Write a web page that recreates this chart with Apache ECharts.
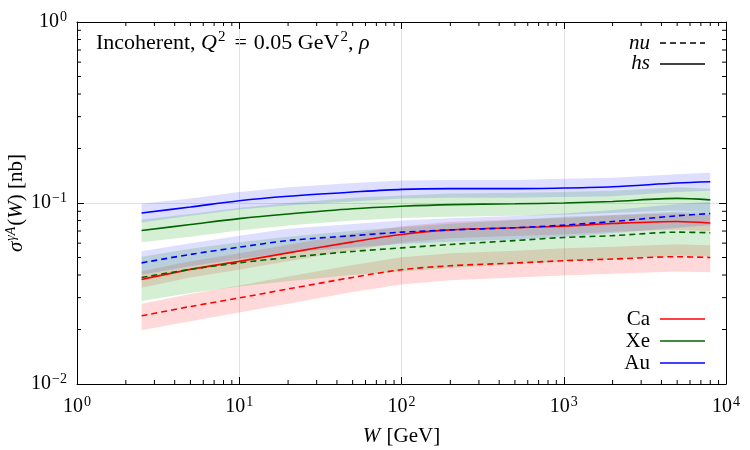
<!DOCTYPE html>
<html>
<head>
<meta charset="utf-8">
<script src="https://cdn.jsdelivr.net/npm/echarts@6/dist/echarts.min.js"></script>
<style>
  html, body { margin: 0; padding: 0; background: #fff; }
  #chart { width: 750px; height: 450px; }
</style>
</head>
<body>
<div id="chart"></div>
<script>
// W values (GeV)
const W = [2.5, 5, 10, 20, 50, 100, 200, 500, 1000, 2000, 5000, 8000]

// Ca
const caNu   = [0.0238, 0.0268, 0.0299, 0.0335, 0.0388, 0.0428, 0.0450, 0.0466, 0.048, 0.049, 0.0505, 0.050]
const caNuHi = [0.0278, 0.0314, 0.035, 0.0392, 0.0454, 0.0501, 0.0527, 0.0545, 0.0562, 0.0573, 0.0591, 0.0585]
const caNuLo = [0.0198, 0.0222, 0.0248, 0.0278, 0.0322, 0.0355, 0.0374, 0.0387, 0.0398, 0.0407, 0.0419, 0.0415]
const caHs   = [0.0378, 0.043, 0.0476, 0.053, 0.061, 0.067, 0.071, 0.073, 0.0745, 0.077, 0.079, 0.0775]
const caHsHi = [0.042, 0.0477, 0.0528, 0.0588, 0.0677, 0.0744, 0.0788, 0.081, 0.0827, 0.0855, 0.0877, 0.086]
const caHsLo = [0.034, 0.0387, 0.0428, 0.0477, 0.0549, 0.0603, 0.0639, 0.0657, 0.067, 0.0693, 0.0711, 0.0698]

// Xe
const xeNu   = [0.0388, 0.043, 0.0467, 0.050, 0.054, 0.0565, 0.059, 0.062, 0.0645, 0.066, 0.069, 0.0685]
const xeNuHi = [0.0504, 0.0559, 0.0607, 0.065, 0.0702, 0.0735, 0.0767, 0.0806, 0.0839, 0.0858, 0.0897, 0.089]
const xeNuLo = [0.0287, 0.0318, 0.0346, 0.037, 0.040, 0.0418, 0.0437, 0.0459, 0.0477, 0.0488, 0.0511, 0.0507]
const xeHs   = [0.0705, 0.076, 0.082, 0.087, 0.093, 0.096, 0.098, 0.099, 0.100, 0.102, 0.106, 0.104]
const xeHsHi = [0.081, 0.087, 0.094, 0.100, 0.107, 0.110, 0.113, 0.114, 0.115, 0.117, 0.122, 0.120]
const xeHsLo = [0.0606, 0.065, 0.0705, 0.075, 0.080, 0.0826, 0.084, 0.085, 0.086, 0.088, 0.091, 0.089]

// Au
const auNu   = [0.0467, 0.052, 0.057, 0.062, 0.066, 0.069, 0.071, 0.073, 0.0755, 0.079, 0.085, 0.0875]
const auNuHi = [0.0542, 0.060, 0.066, 0.072, 0.0766, 0.080, 0.0824, 0.0847, 0.0876, 0.0916, 0.0986, 0.1015]
const auNuLo = [0.0402, 0.0447, 0.049, 0.0533, 0.0568, 0.0593, 0.061, 0.0628, 0.065, 0.068, 0.073, 0.0753]
const auHs   = [0.088, 0.095, 0.103, 0.109, 0.115, 0.119, 0.120, 0.120, 0.121, 0.123, 0.129, 0.131]
const auHsHi = [0.099, 0.106, 0.115, 0.122, 0.129, 0.133, 0.134, 0.134, 0.136, 0.138, 0.144, 0.147]
const auHsLo = [0.078, 0.085, 0.092, 0.097, 0.102, 0.106, 0.107, 0.107, 0.108, 0.109, 0.115, 0.117]

// minor tick positions on the log axes
const xMinor = [2, 3, 4, 5, 6, 7, 8, 9, 20, 30, 40, 50, 60, 70, 80, 90, 200, 300, 400, 500, 600, 700, 800, 900, 2000, 3000, 4000, 5000, 6000, 7000, 8000, 9000]
const yMinor = [0.02, 0.03, 0.04, 0.05, 0.06, 0.07, 0.08, 0.09, 0.2, 0.3, 0.4, 0.5, 0.6, 0.7, 0.8, 0.9]

const RED = '#ff0000'
const GREEN = '#006400'
const BLUE = '#0000ff'
const FONT = 'Liberation Serif'

const chart = echarts.init(document.getElementById('chart'))

function line(data, color, dashed) {
  return {
    type: 'line',
    data: W.map((w, i) => [w, data[i]]),
    smooth: 0.3,
    symbol: 'none',
    lineStyle: { color: color, width: 1.6, type: dashed ? [6, 4] : 'solid' },
    z: 3
  }
}

function band(lo, hi, fill) {
  return {
    type: 'custom',
    data: [[W[0], lo[0]]],
    silent: true,
    z: 1,
    renderItem(params, api) {
      const pts = []
      for (let i = 0; i < W.length; i++) pts.push(api.coord([W[i], hi[i]]))
      for (let i = W.length - 1; i >= 0; i--) pts.push(api.coord([W[i], lo[i]]))
      return { type: 'polygon', shape: { points: pts }, style: { fill: fill } }
    }
  }
}

const minorX = {
  type: 'custom',
  data: xMinor.map(v => [v, 0.1]),
  silent: true,
  z: 4,
  renderItem(params, api) {
    const x = api.coord([api.value(0), 0.1])[0]
    const cs = params.coordSys
    const st = { stroke: '#000', lineWidth: 1 }
    return {
      type: 'group',
      children: [
        { type: 'line', shape: { x1: x, y1: cs.y + cs.height, x2: x, y2: cs.y + cs.height - 4 }, style: st },
        { type: 'line', shape: { x1: x, y1: cs.y, x2: x, y2: cs.y + 4 }, style: st }
      ]
    }
  }
}

const minorY = {
  type: 'custom',
  data: yMinor.map(v => [10, v]),
  silent: true,
  z: 4,
  renderItem(params, api) {
    const y = api.coord([10, api.value(1)])[1]
    const cs = params.coordSys
    const st = { stroke: '#000', lineWidth: 1 }
    return {
      type: 'group',
      children: [
        { type: 'line', shape: { x1: cs.x, y1: y, x2: cs.x + 4, y2: y }, style: st },
        { type: 'line', shape: { x1: cs.x + cs.width, y1: y, x2: cs.x + cs.width - 4, y2: y }, style: st }
      ]
    }
  }
}

const supRich = {
  b: { fontFamily: FONT, fontSize: 20, color: '#000', lineHeight: 24 },
  s: { fontFamily: FONT, fontSize: 14, color: '#000', lineHeight: 24, verticalAlign: 'top', padding: [0, 0, 10, 1] }
}

function powLabel(v) {
  const e = Math.round(Math.log10(v))
  return '{b|10}{s|' + String(e).replace('-', '\u2212') + '}'
}

const axisCommon = {
  type: 'log',
  logBase: 10,
  axisLine: { lineStyle: { color: '#000', width: 1 } },
  axisTick: { inside: true, length: 7, lineStyle: { color: '#000' } },
  minorTick: { show: false }
}

const option = {
  animation: false,
  grid: { left: 77, right: 24, top: 22, bottom: 66, outerBoundsMode: 'none' },
  xAxis: [
    Object.assign({}, axisCommon, {
      min: 1, max: 10000, position: 'bottom',
      axisLabel: { formatter: powLabel, rich: supRich, margin: 11, color: '#000' },
      splitLine: { show: true, lineStyle: { color: '#e2e2e2', width: 1 } },
      name: '{i|W} {n|[GeV]}',
      nameLocation: 'middle',
      nameGap: 42,
      nameMoveOverlap: false,
      nameTextStyle: {
        rich: {
          i: { fontFamily: FONT, fontSize: 21, fontStyle: 'italic', color: '#000', padding: [0, 3, 0, 0] },
          n: { fontFamily: FONT, fontSize: 21, color: '#000' }
        }
      }
    }),
    Object.assign({}, axisCommon, {
      min: 1, max: 10000, position: 'top',
      axisLabel: { show: false },
      splitLine: { show: false }
    })
  ],
  yAxis: [
    Object.assign({}, axisCommon, {
      min: 0.01, max: 1, position: 'left',
      axisLabel: { formatter: powLabel, rich: supRich, margin: 10, color: '#000' },
      splitLine: { show: true, lineStyle: { color: '#e2e2e2', width: 1 } },
      name: '{i|σ}{s|γA}{n|(}{i|W}{n|) [nb]}',
      nameLocation: 'middle',
      nameGap: 49,
      nameRotate: 90,
      nameMoveOverlap: false,
      nameTextStyle: {
        rich: {
          i: { fontFamily: FONT, fontSize: 21, fontStyle: 'italic', color: '#000', lineHeight: 24 },
          n: { fontFamily: FONT, fontSize: 21, color: '#000', lineHeight: 24 },
          s: { fontFamily: FONT, fontSize: 14, fontStyle: 'italic', color: '#000', lineHeight: 24, verticalAlign: 'top', padding: [0, 1, 10, 1] }
        }
      }
    }),
    Object.assign({}, axisCommon, {
      min: 0.01, max: 1, position: 'right',
      axisLabel: { show: false },
      splitLine: { show: false }
    })
  ],
  series: [
    band(caNuLo, caNuHi, 'rgba(255,0,0,0.15)'),
    band(caHsLo, caHsHi, 'rgba(255,0,0,0.15)'),
    band(xeNuLo, xeNuHi, 'rgba(0,160,0,0.17)'),
    band(xeHsLo, xeHsHi, 'rgba(0,160,0,0.17)'),
    band(auNuLo, auNuHi, 'rgba(0,0,255,0.13)'),
    band(auHsLo, auHsHi, 'rgba(0,0,255,0.13)'),
    line(caNu, RED, true),
    line(caHs, RED, false),
    line(xeNu, GREEN, true),
    line(xeHs, GREEN, false),
    line(auNu, BLUE, true),
    line(auHs, BLUE, false),
    minorX,
    minorY
  ],
  graphic: [
    {
      type: 'text', left: 96, top: 30,
      style: {
        text: '{n|Incoherent, }{i|Q}{s|2}{e|=}{n|0.05 GeV}{s|2}{n|, }{i|ρ}',
        rich: {
          n: { fontFamily: FONT, fontSize: 22, fill: '#000', lineHeight: 27 },
          e: { fontFamily: FONT, fontSize: 22, fill: '#000', lineHeight: 27, padding: [0, 7, 0, 9] },
          i: { fontFamily: FONT, fontSize: 22, fontStyle: 'italic', fill: '#000', lineHeight: 27 },
          s: { fontFamily: FONT, fontSize: 15, fill: '#000', lineHeight: 27, verticalAlign: 'top', padding: [0, 0, 10, 1] }
        }
      }
    },
    { type: 'text', x: 650, y: 43, style: { text: 'nu', fontFamily: FONT, fontSize: 21, fontStyle: 'italic', fill: '#000', align: 'right', verticalAlign: 'middle' } },
    { type: 'line', shape: { x1: 660, y1: 43, x2: 705, y2: 43 }, style: { stroke: '#000', lineWidth: 1.6, lineDash: [6, 4] } },
    { type: 'text', x: 650, y: 63, style: { text: 'hs', fontFamily: FONT, fontSize: 21, fontStyle: 'italic', fill: '#000', align: 'right', verticalAlign: 'middle' } },
    { type: 'line', shape: { x1: 660, y1: 64, x2: 705, y2: 64 }, style: { stroke: '#000', lineWidth: 1.6 } },
    { type: 'text', x: 650, y: 319, style: { text: 'Ca', fontFamily: FONT, fontSize: 21, fill: '#000', align: 'right', verticalAlign: 'middle' } },
    { type: 'line', shape: { x1: 660, y1: 319, x2: 705, y2: 319 }, style: { stroke: RED, lineWidth: 1.6 } },
    { type: 'text', x: 650, y: 341, style: { text: 'Xe', fontFamily: FONT, fontSize: 21, fill: '#000', align: 'right', verticalAlign: 'middle' } },
    { type: 'line', shape: { x1: 660, y1: 341, x2: 705, y2: 341 }, style: { stroke: GREEN, lineWidth: 1.6 } },
    { type: 'text', x: 650, y: 363, style: { text: 'Au', fontFamily: FONT, fontSize: 21, fill: '#000', align: 'right', verticalAlign: 'middle' } },
    { type: 'line', shape: { x1: 660, y1: 363, x2: 705, y2: 363 }, style: { stroke: BLUE, lineWidth: 1.6 } }
  ]
}

chart.setOption(option)
</script>
</body>
</html>
